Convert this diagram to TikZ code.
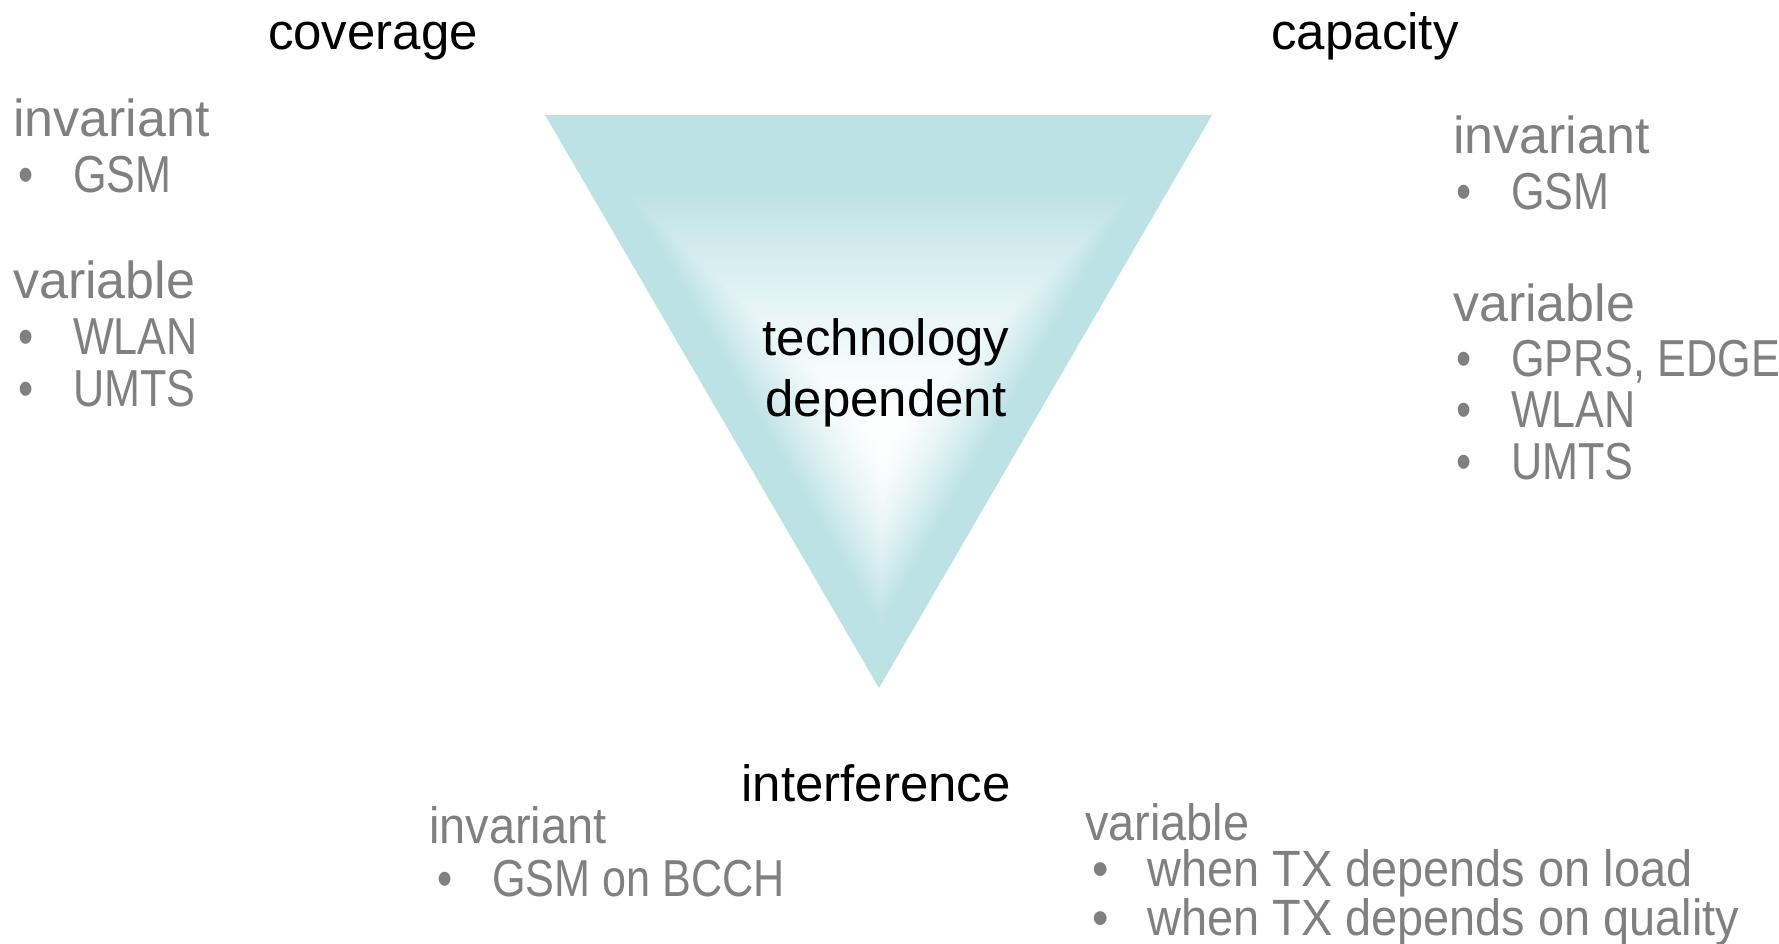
\documentclass[tikz,border=0pt]{standalone}
\usepackage{fontspec}
\setmainfont{Liberation Sans}
\newfontfamily\narrowfont[FakeStretch=0.92]{Liberation Sans}
\newfontfamily\capsfont[FakeStretch=0.83]{Liberation Sans}
\usetikzlibrary{calc,positioning}

\definecolor{tri}{RGB}{189,226,229}
\definecolor{txtgray}{RGB}{128,128,128}
\newcommand{\bul}{\makebox[55pt][l]{\textbullet}}

\tikzset{
  title/.style={font=\fontsize{51}{60}\selectfont, text=black, inner sep=0pt, anchor=base},
  item/.style={font=\fontsize{52}{60}\selectfont, text=txtgray, inner sep=0pt, anchor=base west},
  capsitem/.style={item, font=\fontsize{52}{60}\capsfont},
  narrowitem/.style={item, font=\fontsize{51}{46}\narrowfont}
}

\begin{document}
\begin{tikzpicture}[x=1pt,y=-1pt]
		\useasboundingbox (0,0) rectangle (1779,944);

		% triangle corners and the light spot
		\coordinate (tl) at (545,115);
		\coordinate (tr) at (1212,115);
		\coordinate (bt) at (879,688);
		\coordinate (f) at (884,436);

		\foreach \i in {0,...,80} {
			\pgfmathsetmacro\s{1-\i/80}
			\pgfmathtruncatemacro\p{100*min(1,\s/0.76)^1.5}
			\fill[tri!\p!white] ($(f)!\s!(tl)$) -- ($(f)!\s!(tr)$) -- ($(f)!\s!(bt)$) -- cycle;
		}

		\node [title] (tech) at (886,355) {technology};
		\node [title] (dep) at (886,416) {dependent};

		% corners
		\node [title] (cov) at (373,50) {coverage};
		\node [title] (cap) at (1365,50) {capacity};
		\node [title] (intf) at (876,801) {interference};

		% coverage
		\node [item] (covinv) at (13,137) {invariant};
		\node [capsitem] (covgsm) at (18,193) {\bul GSM};
		\node [item] (covvar) at (13,298) {variable};
		\node [capsitem] (covwlan) at (18,354) {\bul WLAN};
		\node [capsitem] (covumts) at (18,406) {\bul UMTS};

		% capacity
		\node [item] (capinv) at (1453,154) {invariant};
		\node [capsitem] (capgsm) at (1456,209) {\bul GSM};
		\node [item] (capvar) at (1453,321) {variable};
		\node [capsitem] (capgprs) at (1456,376) {\bul GPRS, EDGE};
		\node [capsitem] (capwlan) at (1456,427) {\bul WLAN};
		\node [capsitem] (capumts) at (1456,479) {\bul UMTS};

		% interference
		\node [narrowitem] (intinv) at (429,843) {invariant};
		\node [capsitem] (intgsm) at (437,896) {\bul GSM on BCCH};
		\node [narrowitem, align=left] (intvar) at (1085,935)
			{variable\\ \hspace*{7pt}\bul when TX depends on load\\ \hspace*{7pt}\bul when TX depends on quality};
	\end{tikzpicture}
\end{document}
